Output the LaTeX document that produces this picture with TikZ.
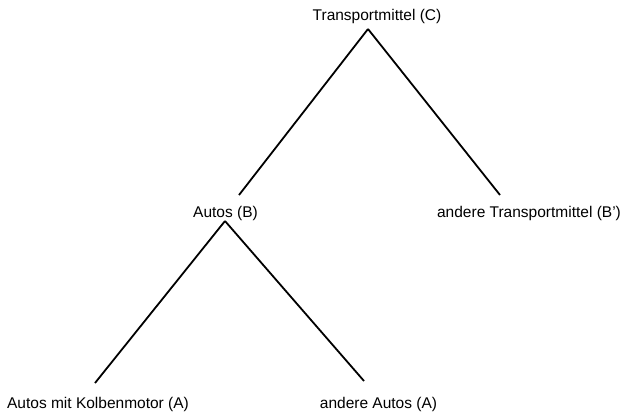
\documentclass[tikz,border=0pt]{standalone}
\usepackage{fontspec}
\setmainfont{Liberation Sans}

\begin{document}
\begin{tikzpicture}[x=1pt, y=-1pt, line width=1.8pt]
    \tikzstyle{every node} = [inner sep=0pt, anchor=base, font=\fontsize{15.5}{18}\selectfont]
    \useasboundingbox (0,0) rectangle (631,413);

    \node (c) at (377, 20) {Transportmittel (C)};
    \node (b) at (225.5, 217) {Autos (B)};
    \node (bb) at (529, 217) {andere Transportmittel (B')};
    \node (a) at (98, 408) {Autos mit Kolbenmotor (A)};
    \node (aa) at (378.5, 408) {andere Autos (A)};

    \coordinate (c-foot) at (368, 29);
    \coordinate (b-head) at (239, 195);
    \coordinate (bb-head) at (500, 195);
    \coordinate (b-foot) at (225, 221);
    \coordinate (a-head) at (95, 383);
    \coordinate (aa-head) at (364, 381);

    \draw [-] (c-foot) -- (b-head);
    \draw [-] (c-foot) -- (bb-head);

    \draw [-] (b-foot) -- (a-head);
    \draw [-] (b-foot) -- (aa-head);
\end{tikzpicture}
\end{document}
